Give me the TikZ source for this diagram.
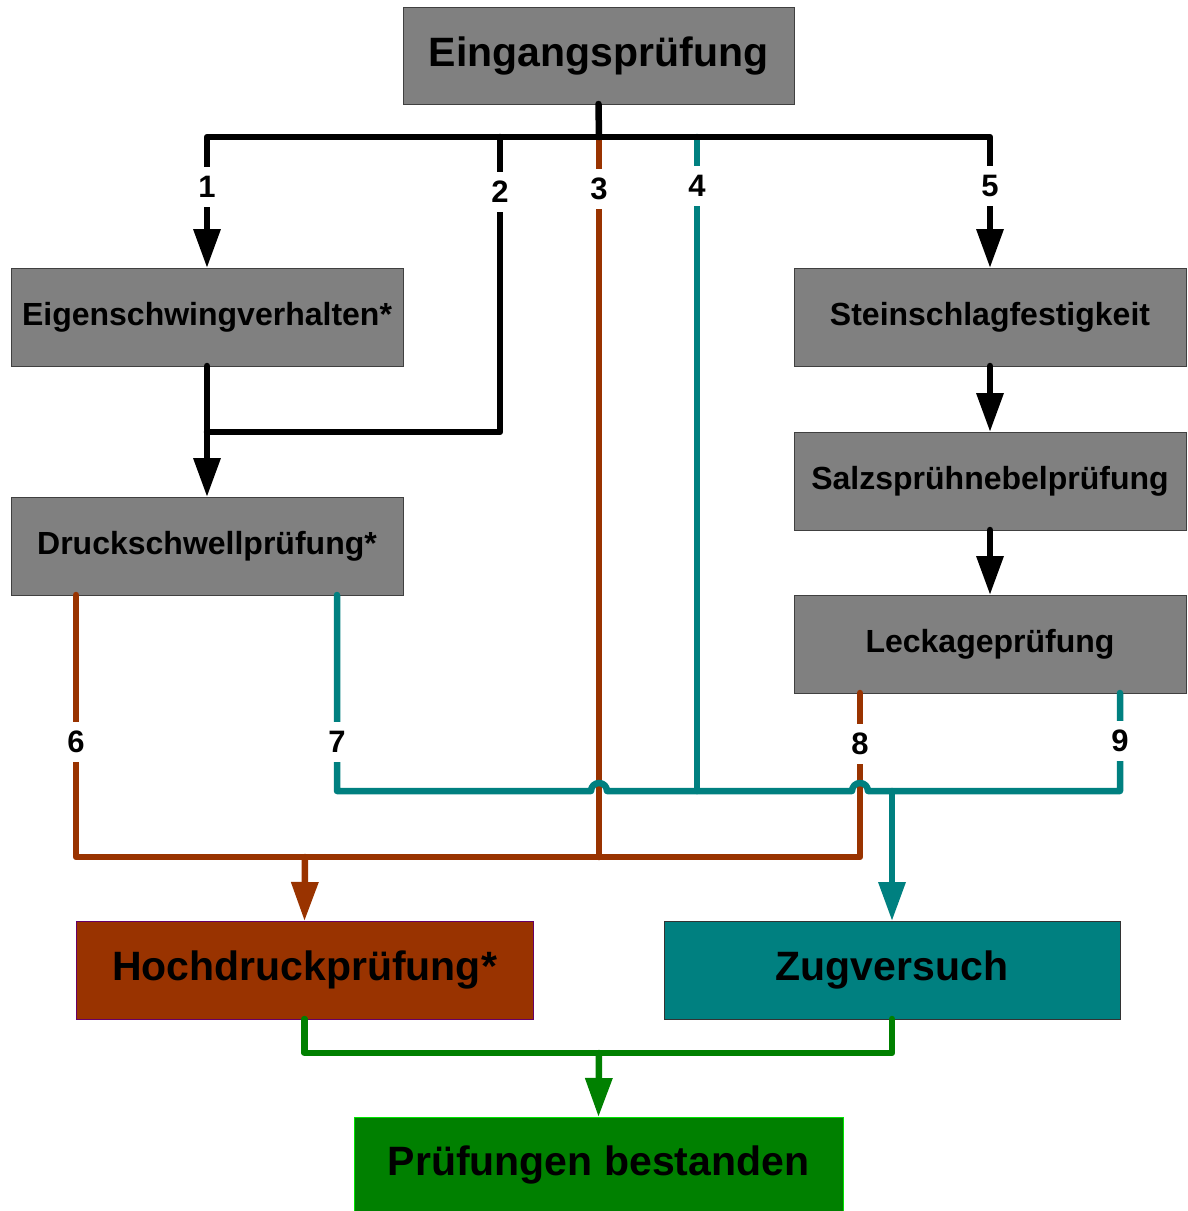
\documentclass[tikz,border=0pt]{standalone}
\usepackage{fontspec}
\setmainfont{Liberation Sans}
\usetikzlibrary{arrows.meta}
\definecolor{boxgray}{HTML}{808080}
\definecolor{rust}{HTML}{993300}
\definecolor{tealc}{HTML}{008080}
\definecolor{greenc}{HTML}{008000}
\tikzset{
  box/.style={draw=black!75, line width=1pt, fill=boxgray, inner sep=0pt, outer sep=0pt,
    minimum width=392pt, minimum height=98pt, font=\fontsize{32}{38}\selectfont\bfseries},
  bigbox/.style={box, font=\fontsize{41}{48}\selectfont\bfseries},
  wire/.style={line width=6.5pt, line cap=round, line join=round},
  tip/.style={-{Triangle[width=26pt,length=39pt]}},
  num/.style={fill=white, inner xsep=2pt, inner ysep=0pt, minimum height=40pt,
    font=\fontsize{31}{31}\selectfont\bfseries}
}
\begin{document}
\begin{tikzpicture}[x=1pt, y=-1pt]
\useasboundingbox (0,0) rectangle (1188,1211);
\node[bigbox, minimum width=391pt, minimum height=97pt] (ein) at (598.5,55.5) {Eingangsprüfung};
\node[box] (eig) at (207,317) {Eigenschwingverhalten*};
\node[box] (dru) at (207,546) {Druckschwellprüfung*};
\node[box] (ste) at (990,317) {Steinschlagfestigkeit};
\node[box] (sal) at (990,481) {Salzsprühnebelprüfung};
\node[box] (lec) at (990,644) {Leckageprüfung};
\node[bigbox, fill=rust, draw=violet!80!black, minimum width=457pt] (hoc) at (304.5,970) {Hochdruckprüfung*};
\node[bigbox, fill=tealc, draw=black!80, minimum width=456pt] (zug) at (892,970) {Zugversuch};
\node[bigbox, fill=greenc, draw=green!90!black, minimum width=489pt, minimum height=96pt] (bes) at (598.5,1165) {Prüfungen bestanden};
\coordinate (split) at (599,137);
\coordinate (b2) at (500,137);
\coordinate (m2) at (207,432);
\coordinate (b3) at (599,137);
\coordinate (e3) at (599,857);
\coordinate (b4) at (697,137);
\coordinate (e4) at (697,791);
\coordinate (s6) at (76,595);
\coordinate (s7) at (337,595);
\coordinate (s8) at (860,693);
\coordinate (s9) at (1120,693);
\coordinate (hocin) at (305,857);
\coordinate (zugin) at (892,791);
\coordinate (besin) at (599,1053);
\draw[wire, rust] (b3) -- (e3);
\draw[wire, tealc] (b4) -- (e4);
\draw[wire] (ein.south) -- (split);
\draw[wire, tip] (split) -| (eig.north);
\draw[wire, tip] (split) -| (ste.north);
\draw[wire] (b2) |- (m2);
\draw[wire, tip] (eig.south) -- (dru.north);
\draw[wire, tip] (ste.south) -- (sal.north);
\draw[wire, tip] (sal.south) -- (lec.north);
\draw[wire, rust] (s6) |- (e3) -| (s8);
\draw[wire, rust, tip] (hocin) -- (hoc.north);
\draw[wire, tealc] (s7) -- (337,791) -- (591,791) arc (180:360:8) -- (852,791) arc (180:360:8) -- (1120,791) -- (s9);
\draw[wire, tealc, tip] (zugin) -- (zug.north);
\draw[wire, greenc] (hoc.south) -- ++(0,34) -| (zug.south);
\draw[wire, greenc, tip] (besin) -- (bes.north);
\node[num] (n1) at (207,187) {1};
\node[num] (n2) at (500,192) {2};
\node[num] (n3) at (599,189) {3};
\node[num] (n4) at (697,186) {4};
\node[num] (n5) at (990,186) {5};
\node[num] (n6) at (76,742) {6};
\node[num] (n7) at (337,742) {7};
\node[num] (n8) at (860,744) {8};
\node[num] (n9) at (1120,741) {9};
\end{tikzpicture}
\end{document}
